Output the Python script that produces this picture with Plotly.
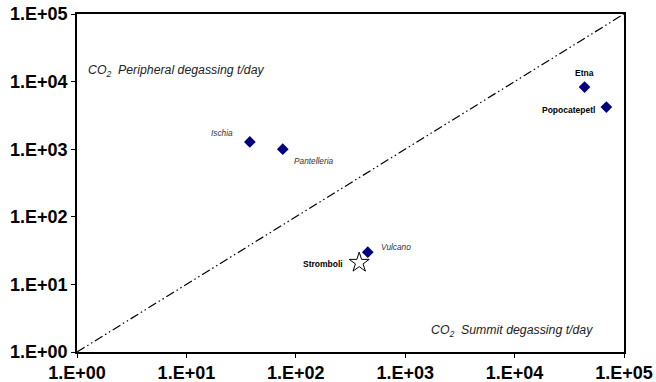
import numpy as np
import plotly.graph_objects as go

# Data (t/day)
volcanoes = ["Ischia", "Pantelleria", "Etna", "Popocatepetl", "Vulcano"]
summit = [38, 76, 43600, 69000, 455]
peripheral = [1280, 1000, 8300, 4200, 30]
stromboli_summit = [380]
stromboli_peripheral = [21]
line_x = [1, 100000]
line_y = [1, 100000]
tick_vals = [1, 10, 100, 1000, 10000, 100000]
tick_text = ["1.E+00", "1.E+01", "1.E+02", "1.E+03", "1.E+04", "1.E+05"]

W, H = 656, 382
L, T = 77, 14
R, B = 656 - 624, 382 - 352
pw, ph = W - L - R, H - T - B

fig = go.Figure()
fig.add_trace(go.Scatter(x=line_x, y=line_y, mode="lines",
                         line=dict(color="black", width=1.2, dash="9px,3px,1.5px,3px,1.5px,3px"),
                         hoverinfo="skip", showlegend=False))
fig.add_trace(go.Scatter(x=summit, y=peripheral, mode="markers",
                         marker=dict(symbol="diamond", size=9, color="#000080"),
                         showlegend=False))
fig.add_trace(go.Scatter(x=stromboli_summit, y=stromboli_peripheral, mode="markers",
                         marker=dict(symbol="star-open", size=15, color="black", line=dict(width=1)),
                         showlegend=False))

italic = dict(family="Liberation Sans, Arial", size=8.3, color="#333333")
bold = dict(family="Liberation Sans, Arial", size=8.5, color="black")
labels = [
    # name, x, y, xshift, yshift, anchor, style
    ("<i>Ischia</i>", summit[0], peripheral[0], -15, 9, "right", italic),
    ("<i>Pantelleria</i>", summit[1], peripheral[1], 9, -12, "left", italic),
    ("<b>Etna</b>", summit[2], peripheral[2], 0, 14, "center", bold),
    ("<b>Popocatepetl</b>", summit[3], peripheral[3], -9, -3, "right", bold),
    ("<i>Vulcano</i>", summit[4], peripheral[4], 11, 5, "left", italic),
    ("<b>Stromboli</b>", stromboli_summit[0], stromboli_peripheral[0], -14, -1, "right", bold),
]
annotations = []
for txt, x, y, xs, ys, anc, f in labels:
    annotations.append(dict(x=np.log10(x), y=np.log10(y), xref="x", yref="y", text=txt,
                            showarrow=False, xshift=xs, yshift=ys, xanchor=anc,
                            yanchor="middle", font=f))

afont = dict(family="Liberation Sans, Arial", size=12.3, color="#222222")
annotations.append(dict(x=(86 - L) / pw, y=1 - (71 - T) / ph, xref="paper", yref="paper",
                        text="<i>CO<sub>2</sub>  Peripheral degassing t/day</i>",
                        showarrow=False, xanchor="left", yanchor="middle", font=afont))
annotations.append(dict(x=(595 - L) / pw, y=1 - (331 - T) / ph, xref="paper", yref="paper",
                        text="<i>CO<sub>2</sub>  Summit degassing t/day</i>",
                        showarrow=False, xanchor="right", yanchor="middle", font=afont))

tickfont = dict(family="Liberation Sans, Arial", size=18, color="black", weight="bold")
axis_common = dict(type="log", range=[0, 5], tickvals=tick_vals, ticktext=tick_text,
                   ticks="outside", ticklen=4, tickwidth=1.2, tickcolor="black",
                   showline=True, linecolor="black", linewidth=1.5, mirror=True,
                   showgrid=False, zeroline=False, tickfont=tickfont, automargin=False,
                   ticklabeloverflow="allow")
fig.update_layout(
    width=W, height=H, margin=dict(l=L, r=R, t=T, b=B),
    paper_bgcolor="white", plot_bgcolor="white",
    xaxis=dict(**axis_common),
    yaxis=dict(**axis_common),
    annotations=annotations,
)
fig.write_html("out.html", config={"displayModeBar": False},
               post_script="document.body.style.margin='0px';document.body.style.overflow='hidden';")
